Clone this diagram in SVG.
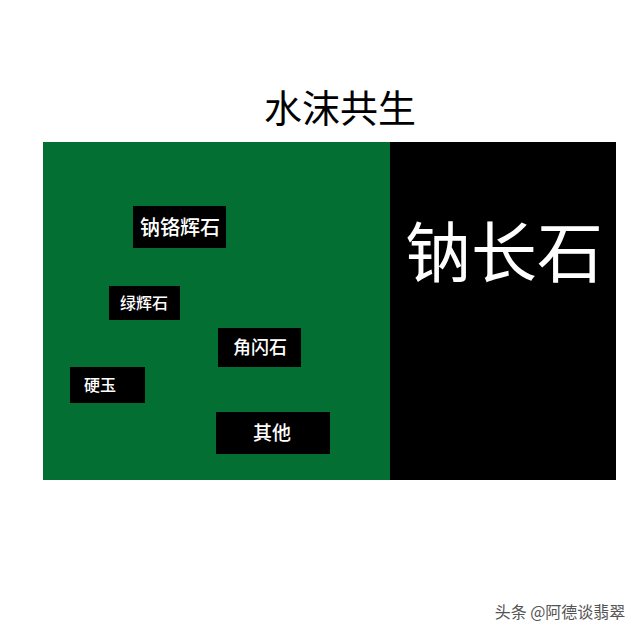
<svg xmlns="http://www.w3.org/2000/svg" width="640" height="640" viewBox="0 0 640 640">
<style>
.t{font-family:"Noto Sans CJK SC","Liberation Sans",sans-serif;fill:#fff;text-anchor:middle;font-weight:500}
.big{font-weight:400}
.box{fill:#000}
</style>
<rect x="0" y="0" width="640" height="640" fill="#fff"/>
<text x="340" y="122" font-family="Noto Sans CJK SC, sans-serif" font-size="38" fill="#000" text-anchor="middle">水沫共生</text>
<g id="green-area"><rect x="43" y="142" width="347" height="338" fill="#046f33"/></g>
<g id="albite"><rect x="390" y="142" width="226" height="338" fill="#000"/>
<text class="t big" x="504" y="277" font-size="66">钠长石</text></g>
<g id="kosmochlor"><rect class="box" x="133" y="206" width="93" height="42"/><text class="t" x="180" y="235" font-size="20">钠铬辉石</text></g>
<g id="omphacite"><rect class="box" x="109" y="286" width="71" height="34"/><text class="t" x="144" y="309" font-size="16">绿辉石</text></g>
<g id="amphibole"><rect class="box" x="218" y="328" width="83" height="39"/><text class="t" x="260" y="354" font-size="18">角闪石</text></g>
<g id="jadeite"><rect class="box" x="70" y="367" width="75" height="36"/><text class="t" x="100" y="391" font-size="16">硬玉</text></g>
<g id="other"><rect class="box" x="216" y="412" width="114" height="42"/><text class="t" x="272" y="440" font-size="19">其他</text></g>
<g id="connectors"></g>
<text x="560" y="618" font-family="Noto Sans CJK SC, sans-serif" font-size="16" fill="#555" text-anchor="middle">头条 @阿德谈翡翠</text>
</svg>
